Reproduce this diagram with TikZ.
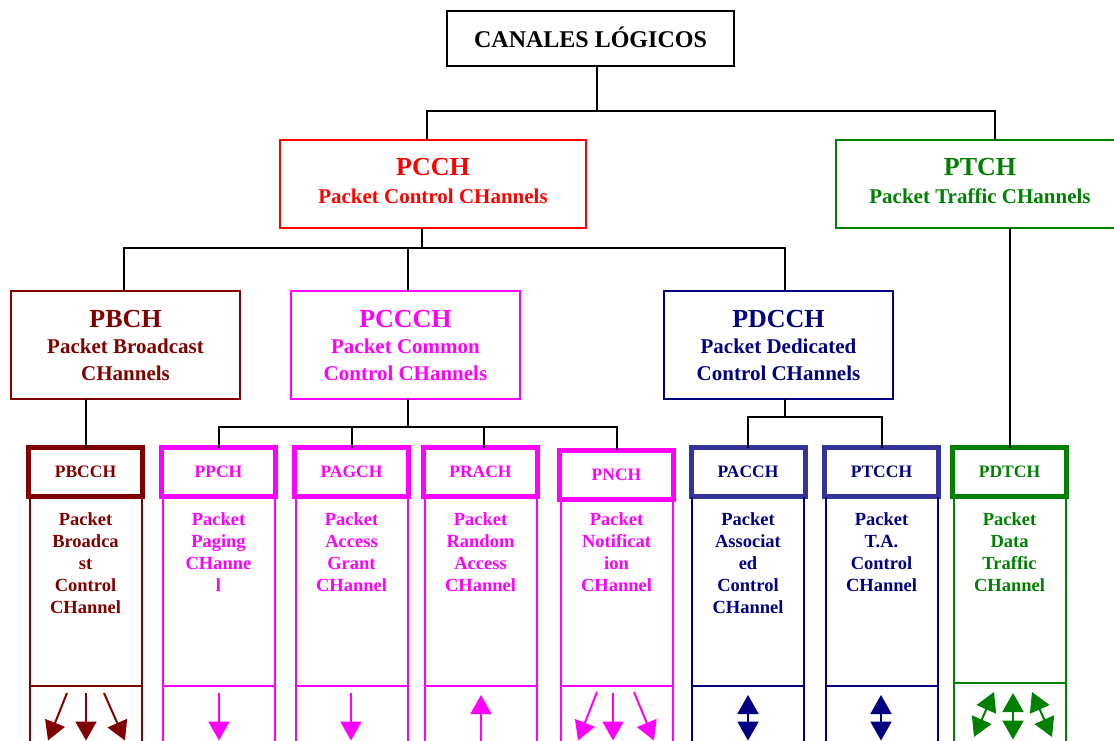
\documentclass[tikz,border=0pt]{standalone}
\usepackage{fontspec}
\setmainfont{Liberation Serif}
\usetikzlibrary{arrows.meta}

\definecolor{chdarkred}{HTML}{800000}
\definecolor{chmagenta}{HTML}{FF00FF}
\definecolor{chnavy}{HTML}{000080}
\definecolor{chblue}{HTML}{333399}
\definecolor{chgreen}{HTML}{008000}
\definecolor{chred}{HTML}{FF0000}

% extra depth below the last line of a group box
\newcommand{\lowpad}{\rule[-6pt]{0pt}{6pt}}

\begin{document}
\begin{tikzpicture}[x=1pt,y=-1pt,
  wire/.style={line width=2pt, draw=black},
  groupbox/.style={draw, line width=2pt, inner sep=0pt, outer sep=0pt, align=center,
    font=\bfseries\fontsize{21}{26.5}\selectfont},
  chhead/.style={draw, line width=5pt, inner sep=0pt, outer sep=0pt,
    minimum width=114pt, minimum height=49pt, font=\bfseries\fontsize{17.5}{20}\selectfont},
  chtext/.style={anchor=north, inner sep=0pt, align=center,
    font=\bfseries\fontsize{18.5}{22}\selectfont},
  colline/.style={line width=2pt},
  sig/.style={line width=2pt, -{Triangle[length=19pt,width=21pt]}},
  sigboth/.style={line width=2pt, {Triangle[length=19pt,width=21pt]}-{Triangle[length=19pt,width=21pt]}},
]
\useasboundingbox (0,0) rectangle (1114,740);
\clip (0,0) rectangle (1114,740);
\fill[white] (0,0) rectangle (1114,740);

% ---- root and first level ----
\node[groupbox, minimum width=287pt, minimum height=55pt, text height=17pt, text depth=0pt,
  font=\bfseries\fontsize{24}{28}\selectfont] (canales) at (590.5,38.5) {CANALES LÓGICOS};

\node[groupbox, draw=chred, text=chred, minimum width=306pt, minimum height=88pt]
  (pcch) at (433,184) {{\fontsize{26}{26}\selectfont PCCH}\\[2pt]Packet Control CHannels\lowpad};
\node[groupbox, draw=chgreen, text=chgreen, minimum width=288pt, minimum height=88pt]
  (ptch) at (980,184) {{\fontsize{26}{26}\selectfont PTCH}\\[2pt]Packet Traffic CHannels\lowpad};

% ---- second level ----
\node[groupbox, draw=chdarkred, text=chdarkred, minimum width=229pt, minimum height=108pt]
  (pbch) at (125.5,345) {{\fontsize{26}{26}\selectfont PBCH}\\Packet Broadcast\\CHannels};
\node[groupbox, draw=chmagenta, text=chmagenta, minimum width=229pt, minimum height=108pt]
  (pccch) at (405.5,345) {{\fontsize{26}{26}\selectfont PCCCH}\\Packet Common\\Control CHannels};
\node[groupbox, draw=chnavy, text=chnavy, minimum width=229pt, minimum height=108pt]
  (pdcch) at (778.5,345) {{\fontsize{26}{26}\selectfont PDCCH}\\Packet Dedicated\\Control CHannels};

% ---- logical channel headers ----
\node[chhead, draw=chdarkred, text=chdarkred] (pbcch) at (85.5,472)  {PBCCH};
\node[chhead, draw=chmagenta, text=chmagenta] (ppch)  at (218.5,472) {PPCH};
\node[chhead, draw=chmagenta, text=chmagenta] (pagch) at (351.5,472) {PAGCH};
\node[chhead, draw=chmagenta, text=chmagenta] (prach) at (480.5,472) {PRACH};
\node[chhead, draw=chmagenta, text=chmagenta] (pnch)  at (616.5,474.5) {PNCH};
\node[chhead, draw=chblue, text=chnavy]       (pacch) at (748,472)   {PACCH};
\node[chhead, draw=chblue, text=chnavy]       (ptcch) at (881.5,472) {PTCCH};
\node[chhead, draw=chgreen, text=chgreen]     (pdtch) at (1009.5,472) {PDTCH};

% ---- column bodies under each header ----
\foreach \h/\c/\d in {pbcch/chdarkred/686, ppch/chmagenta/686, pagch/chmagenta/686,
    prach/chmagenta/686, pnch/chmagenta/686, pacch/chnavy/686, ptcch/chnavy/686,
    pdtch/chgreen/683}{
  \draw[colline, draw=\c] ([xshift=1pt]\h.south west) -- ([xshift=1pt]\h.south west |- 0,750);
  \draw[colline, draw=\c] ([xshift=-1pt]\h.south east) -- ([xshift=-1pt]\h.south east |- 0,750);
  \draw[colline, draw=\c] ([xshift=1pt]\h.south west |- 0,\d) -- ([xshift=-1pt]\h.south east |- 0,\d);
}

% ---- column descriptions ----
\node[chtext, text=chdarkred] (pbcch-t) at (pbcch |- 0,512.5) {Packet\\Broadca\\st\\Control\\CHannel};
\node[chtext, text=chmagenta] (ppch-t)  at (ppch |- 0,512.5)  {Packet\\Paging\\CHanne\\l};
\node[chtext, text=chmagenta] (pagch-t) at (pagch |- 0,512.5) {Packet\\Access\\Grant\\CHannel};
\node[chtext, text=chmagenta] (prach-t) at (prach |- 0,512.5) {Packet\\Random\\Access\\CHannel};
\node[chtext, text=chmagenta] (pnch-t)  at (pnch |- 0,512.5)  {Packet\\Notificat\\ion\\CHannel};
\node[chtext, text=chnavy]    (pacch-t) at (pacch |- 0,512.5) {Packet\\Associat\\ed\\Control\\CHannel};
\node[chtext, text=chnavy]    (ptcch-t) at (ptcch |- 0,512.5) {Packet\\T.A.\\Control\\CHannel};
\node[chtext, text=chgreen]   (pdtch-t) at (pdtch |- 0,512.5) {Packet\\Data\\Traffic\\CHannel};

% ---- tree connectors ----
\coordinate (topbus) at (597,111);
\draw[wire] ([xshift=6.5pt]canales.south) -- (topbus);
\draw[wire] ([xshift=-6pt]pcch.north) |- (topbus) -| ([xshift=15pt]ptch.north);

\coordinate (ctrlbus) at (422,248);
\draw[wire] (pcch.south -| ctrlbus) -- (ctrlbus);
\draw[wire] ([xshift=-1.5pt]pbch.north) |- (ctrlbus) -| ([xshift=6.5pt]pdcch.north);
\draw[wire] ([xshift=2.5pt]pccch.north) -- ([xshift=2.5pt]pccch.north |- ctrlbus);

\draw[wire] (pbcch.north) -- (pbcch.north |- pbch.south);

\coordinate (commonbus) at (408,427);
\draw[wire] (pccch.south -| commonbus) -- (commonbus);
\draw[wire] (ppch.north) |- (commonbus) -| (pnch.north);
\draw[wire] (pagch.north) -- (pagch.north |- commonbus);
\draw[wire] ([xshift=3pt]prach.north) -- ([xshift=3pt]prach.north |- commonbus);

\coordinate (dedbus) at (785,417);
\draw[wire] (pdcch.south -| dedbus) -- (dedbus);
\draw[wire] (pacch.north) |- (dedbus) -| (ptcch.north);

\draw[wire] (pdtch.north) -- (pdtch.north |- ptch.south);

% ---- direction symbols ----
\begin{scope}[color=chdarkred]
  \draw[sig] (67,693) -- (48,740.5);
  \draw[sig] (86,693) -- (86,740.5);
  \draw[sig] (104,693) -- (125,740.5);
\end{scope}
\begin{scope}[color=chmagenta]
  \draw[sig] (219,693) -- (219,740.5);
  \draw[sig] (351,693) -- (351,740.5);
  \draw[sig] (481,745) -- (481,695);
  \draw[sig] (597,692) -- (578,740.5);
  \draw[sig] (613,693) -- (613,740.5);
  \draw[sig] (634,692) -- (654,740.5);
\end{scope}
\begin{scope}[color=chnavy]
  \draw[sigboth] (748,695) -- (748,740.5);
  \draw[sigboth] (881,695) -- (881,740.5);
\end{scope}
\begin{scope}[color=chgreen]
  \draw[sigboth] (994,692) -- (974,737);
  \draw[sigboth] (1013,693) -- (1013,739.5);
  \draw[sigboth] (1032,692) -- (1052,737);
\end{scope}
\end{tikzpicture}
\end{document}
